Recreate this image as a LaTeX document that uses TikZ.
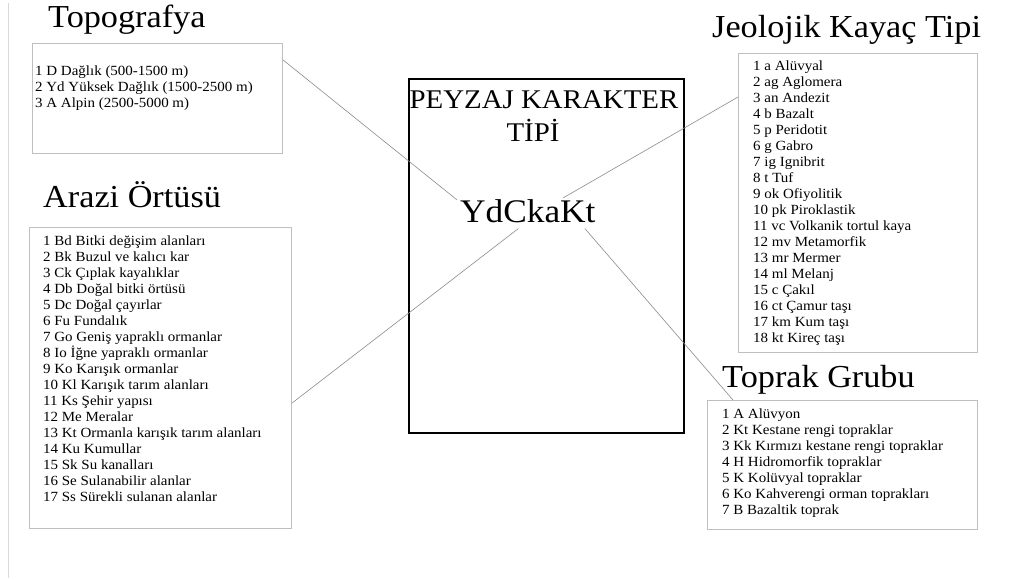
\documentclass[tikz,border=0pt]{standalone}
\usepackage{fontspec}
\setmainfont{Liberation Serif}[FakeStretch=1.07]
\usetikzlibrary{calc}
\tikzset{
  listbox/.style={draw=black!25, line width=1.1pt, rectangle, inner sep=0pt, anchor=north west},
  title/.style={font=\fontsize{32}{36}\selectfont, inner sep=0pt, anchor=base west},
  listtext/.style={font=\fontsize{14}{16}\selectfont, align=left, inner sep=0pt, anchor=north west},
  conn/.style={draw=black!45, line width=0.6pt},
  mainbox/.style={draw=black, line width=2pt, rectangle, inner sep=0pt, anchor=north west},
}
\begin{document}
\begin{tikzpicture}[x=1pt,y=-1pt]
\useasboundingbox[fill=white] (0,0) rectangle (1029,580);
\coordinate (f1) at (8,3);
\coordinate (f2) at (8,578);
\draw[black!15, line width=1pt] (f1) -- (f2);

% boxes
\node[listbox, minimum width=250pt, minimum height=110pt] (topo) at (32,43) {};
\node[listbox, minimum width=262pt, minimum height=301pt] (arazi) at (29,227) {};
\node[listbox, minimum width=239pt, minimum height=299pt] (jeo) at (738,53) {};
\node[listbox, minimum width=270pt, minimum height=129pt] (toprak) at (707,400) {};
\node[mainbox, minimum width=275pt, minimum height=354pt] (main) at (408,78) {};

% titles
\node[title] (ttopo) at (48,28) {Topografya};
\node[title] (tarazi) at (43,208) {Arazi Örtüsü};
\node[title] (tjeo) at (712,38) {Jeolojik Kayaç Tipi};
\node[title] (ttoprak) at (722,387) {Toprak Grubu};

% center texts
\node[font=\fontsize{27}{30}\selectfont, inner sep=0pt, anchor=base] (peyzaj) at (544,109) {PEYZAJ KARAKTER};
\node[font=\fontsize{27}{30}\selectfont, inner sep=0pt, anchor=base] (tipi) at (533,142) {TİPİ};
\node[font=\fontsize{33}{36}\selectfont, inner sep=0pt, anchor=base west] (ydc) at (460,223) {YdCkaKt};

% lists
\node[listtext] (ltopo) at (35,66) {1 D Dağlık (500-1500 m)\\2 Yd Yüksek Dağlık (1500-2500 m)\\3 A Alpin (2500-5000 m)};
\node[listtext] (larazi) at (43,236) {1 Bd Bitki değişim alanları\\2 Bk Buzul ve kalıcı kar\\3 Ck Çıplak kayalıklar\\4 Db Doğal bitki örtüsü\\5 Dc Doğal çayırlar\\6 Fu Fundalık\\7 Go Geniş yapraklı ormanlar\\8 Io İğne yapraklı ormanlar\\9 Ko Karışık ormanlar\\10 Kl Karışık tarım alanları\\11 Ks Şehir yapısı\\12 Me Meralar\\13 Kt Ormanla karışık tarım alanları\\14 Ku Kumullar\\15 Sk Su kanalları\\16 Se Sulanabilir alanlar\\17 Ss Sürekli sulanan alanlar};
\node[listtext] (ljeo) at (753,61) {1 a Alüvyal\\2 ag Aglomera\\3 an Andezit\\4 b Bazalt\\5 p Peridotit\\6 g Gabro\\7 ig Ignibrit\\8 t Tuf\\9 ok Ofiyolitik\\10 pk Piroklastik\\11 vc Volkanik tortul kaya\\12 mv Metamorfik\\13 mr Mermer\\14 ml Melanj\\15 c Çakıl\\16 ct Çamur taşı\\17 km Kum taşı\\18 kt Kireç taşı};
\node[listtext] (ltoprak) at (722,409) {1 A Alüvyon\\2 Kt Kestane rengi topraklar\\3 Kk Kırmızı kestane rengi topraklar\\4 H Hidromorfik topraklar\\5 K Kolüvyal topraklar\\6 Ko Kahverengi orman toprakları\\7 B Bazaltik toprak};

% connector end points
\coordinate (c1) at ($(topo.north east)+(0,17)$);
\coordinate (c2) at ($(arazi.north east)+(0,176)$);
\coordinate (c3) at ($(jeo.north west)+(0,44)$);
\coordinate (c4) at ($(toprak.north west)+(26,0)$);
\coordinate (y1) at ($(ydc.north west)+(-3,0)$);
\coordinate (y2) at ($(ydc.south west)!0.43!(ydc.south east)+(0,5)$);
\coordinate (y3) at ($(ydc.north west)!0.76!(ydc.north east)+(0,-2)$);
\coordinate (y4) at ($(ydc.south west)!0.92!(ydc.south east)+(0,5)$);

\draw[conn] (c1) -- (y1);
\draw[conn] (c2) -- (y2);
\draw[conn] (y3) -- (c3);
\draw[conn] (y4) -- (c4);
\end{tikzpicture}
\end{document}
